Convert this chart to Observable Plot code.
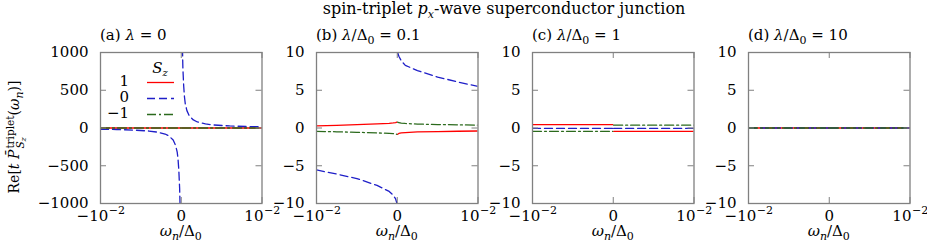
<!DOCTYPE html>
<html><head><meta charset="utf-8">
<script src="https://cdn.jsdelivr.net/npm/d3@7"></script>
<script src="https://cdn.jsdelivr.net/npm/@observablehq/plot@0.6"></script>
<style>
body{margin:0;background:#fff}
#chart{position:relative;width:927px;height:244px;overflow:hidden;font-family:"DejaVu Serif",serif;color:#000;background:#fff}
#chart svg{position:absolute;left:0;top:0}
#chart svg text{font-family:"DejaVu Serif",serif}
.lbl{position:absolute;white-space:nowrap;font-size:15px;line-height:15px}
.lbl sub{font-size:11px;line-height:0;vertical-align:-4px}
.ss{display:inline-block;font-size:10.5px;line-height:10px;vertical-align:-5px;text-align:left;margin-left:1px}
.ss span{display:block}
.ss sub{font-size:8px;vertical-align:-2px}
.lg{position:absolute;font-size:15px;line-height:15px;white-space:nowrap}
</style></head><body><div id="chart"></div>
<script>
// ---------- data ----------
const szLabels = ["1", "0", "−1"];
const panelTitles = [
  "(a) <i>λ</i> = 0",
  "(b) <i>λ</i>/Δ<sub>0</sub> = 0.1",
  "(c) <i>λ</i>/Δ<sub>0</sub> = 1",
  "(d) <i>λ</i>/Δ<sub>0</sub> = 10"
];
const yTicksA = [-1000, -500, 0, 500, 1000];
const yTicksBCD = [-10, -5, 0, 5, 10];
const xTickValues = [-0.01, 0, 0.01];
const xTickBases = ["−10", "0", "10"];
const xTickExps = ["−2", "", "−2"];

// panel (a) lambda = 0
const omegaNegA = [-0.01, -0.008, -0.006, -0.004, -0.003, -0.002, -0.0015, -0.001, -0.0007, -0.0005, -0.0004, -0.0003, -0.0002, -0.00014];
const omegaPosA = [0.00015, 0.0002, 0.0003, 0.0004, 0.0005, 0.0007, 0.001, 0.0015, 0.002, 0.003, 0.004, 0.006, 0.008, 0.01];
const szZeroNegA = [-17, -20, -27, -40, -54, -80, -107, -160, -230, -320, -410, -560, -800, -1060];
const szZeroPosA = [1060, 800, 560, 410, 320, 230, 160, 107, 80, 54, 40, 27, 20, 16];
const omegaEdgeNeg = [-0.01, -0.00005];
const omegaEdgePos = [0.00005, 0.01];
const szPlusNegA = [0, 0], szPlusPosA = [0, 0];
const szMinusNegA = [0, 0], szMinusPosA = [0, 0];

// panel (b) lambda/Delta0 = 0.1
const omegaNegB = [-0.01, -0.0075, -0.005, -0.0025, -0.001, -0.0005, -0.0002, -0.00005];
const omegaPosB = [0.00005, 0.0002, 0.0005, 0.001, 0.0025, 0.005, 0.0075, 0.01];
const szPlusNegB = [0.27, 0.35, 0.45, 0.55, 0.62, 0.67, 0.72, 0.78];
const szPlusPosB = [-0.83, -0.72, -0.65, -0.6, -0.52, -0.47, -0.43, -0.4];
const szZeroNegB = [-5.56, -6.1, -6.7, -7.6, -8.4, -8.9, -9.4, -9.95];
const szZeroPosB = [10.0, 9.5, 8.9, 8.3, 7.6, 6.75, 6.1, 5.5];
const szMinusNegB = [-0.45, -0.5, -0.57, -0.65, -0.7, -0.74, -0.78, -0.83];
const szMinusPosB = [0.78, 0.7, 0.64, 0.6, 0.52, 0.46, 0.42, 0.38];

// panel (c) lambda/Delta0 = 1
const szPlusNegC = [0.45, 0.45], szPlusPosC = [-0.44, -0.44];
const szZeroNegC = [-0.05, -0.05], szZeroPosC = [-0.05, -0.05];
const szMinusNegC = [-0.44, -0.44], szMinusPosC = [0.38, 0.38];

// panel (d) lambda/Delta0 = 10
const szPlusNegD = [0, 0], szPlusPosD = [0, 0];
const szZeroNegD = [0, 0], szZeroPosD = [0, 0];
const szMinusNegD = [0, 0], szMinusPosD = [0, 0];

// ---------- styles / layout ----------
const W = 927, H = 244, TOP = 52, BOTTOM = 41;
const frameLefts = [100, 316, 532, 748];
const frameW = 161.5, frameH = H - TOP - BOTTOM;
const colors = ["#ff0000", "#1f1fc8", "#2b6a1c"];
const dashes = [null, "8,4", "9,3,2,3"];
const gray = "#808080";
const FONT = '"DejaVu Serif", serif';
const FS = 15, FS_EXP = 11;

function rows(wNeg, wPos, neg, pos) {
  return [
    ...wNeg.map((w, i) => ({w, v: neg[i], side: "neg"})),
    ...wPos.map((w, i) => ({w, v: pos[i], side: "pos"}))
  ];
}

const panels = [
  {yTicks: yTicksA, series: [
    rows(omegaEdgeNeg, omegaEdgePos, szPlusNegA, szPlusPosA),
    rows(omegaNegA, omegaPosA, szZeroNegA, szZeroPosA),
    rows(omegaEdgeNeg, omegaEdgePos, szMinusNegA, szMinusPosA)]},
  {yTicks: yTicksBCD, series: [
    rows(omegaNegB, omegaPosB, szPlusNegB, szPlusPosB),
    rows(omegaNegB, omegaPosB, szZeroNegB, szZeroPosB),
    rows(omegaNegB, omegaPosB, szMinusNegB, szMinusPosB)]},
  {yTicks: yTicksBCD, series: [
    rows(omegaEdgeNeg, omegaEdgePos, szPlusNegC, szPlusPosC),
    rows(omegaEdgeNeg, omegaEdgePos, szZeroNegC, szZeroPosC),
    rows(omegaEdgeNeg, omegaEdgePos, szMinusNegC, szMinusPosC)]},
  {yTicks: yTicksBCD, series: [
    rows(omegaEdgeNeg, omegaEdgePos, szPlusNegD, szPlusPosD),
    rows(omegaEdgeNeg, omegaEdgePos, szZeroNegD, szZeroPosD),
    rows(omegaEdgeNeg, omegaEdgePos, szMinusNegD, szMinusPosD)]}
];

const ctx = document.createElement("canvas").getContext("2d");
function tw(s, size) { ctx.font = `${size}px "DejaVu Serif"`; return ctx.measureText(s).width; }

function xTickLabelMarks() {
  return xTickValues.map((v, i) => {
    const base = xTickBases[i], exp = xTickExps[i];
    const common = {x: d => d, frameAnchor: "bottom", lineAnchor: "middle", fontFamily: FONT};
    if (!exp) return Plot.text([v], {...common, text: () => base, dy: 12.5, fontSize: FS});
    const wb = tw(base, FS), we = tw(exp, FS_EXP);
    const start = -(wb + we) / 2;
    return [
      Plot.text([v], {...common, text: () => base, dy: 12.5, dx: start, textAnchor: "start", fontSize: FS}),
      Plot.text([v], {...common, text: () => exp, dy: 7, dx: start + wb + 0.5, textAnchor: "start", fontSize: FS_EXP})
    ];
  });
}

const chart = document.getElementById("chart");

panels.forEach((p, k) => {
  const L = frameLefts[k];
  const svg = Plot.plot({
    width: W, height: H,
    marginTop: TOP, marginBottom: BOTTOM, marginLeft: L, marginRight: W - L - frameW,
    style: {background: "transparent", overflow: "visible", fontFamily: FONT, fontSize: FS + "px", color: "#000"},
    x: {domain: [-0.01, 0.01], axis: null},
    y: {domain: [p.yTicks[0], p.yTicks[p.yTicks.length - 1]], axis: null},
    marks: [
      ...p.series.map((data, s) => Plot.lineY(data, {
        x: "w", y: "v", z: "side", stroke: colors[s], strokeWidth: 1.3,
        strokeDasharray: dashes[s], clip: true
      })),
      Plot.ruleY(p.yTicks, {insetRight: frameW - 6, stroke: gray, strokeWidth: 1}),
      Plot.ruleY(p.yTicks, {insetLeft: frameW - 6, stroke: gray, strokeWidth: 1}),
      Plot.ruleX(xTickValues, {insetBottom: frameH - 6, stroke: gray, strokeWidth: 1}),
      Plot.ruleX(xTickValues, {insetTop: frameH - 6, stroke: gray, strokeWidth: 1}),
      Plot.frame({stroke: gray, strokeWidth: 1.3}),
      Plot.axisY(p.yTicks, {tickSize: 0, tickPadding: 12, fontSize: FS, fontFamily: FONT, label: null,
        tickFormat: d => String(d).replace("-", "−")}),
      xTickLabelMarks()
    ]
  });
  chart.appendChild(svg);

  // panel title
  const t = document.createElement("div");
  t.className = "lbl";
  t.style.left = L + "px";
  t.style.top = "28px";
  t.innerHTML = panelTitles[k];
  chart.appendChild(t);

  // x axis label
  const xl = document.createElement("div");
  xl.className = "lbl";
  xl.style.left = (L + frameW / 2) + "px";
  xl.style.top = "224px";
  xl.style.transform = "translateX(-50%)";
  xl.innerHTML = "<i>ω</i><sub><i>n</i></sub>/Δ<sub>0</sub>";
  chart.appendChild(xl);
});

// overall title
const title = document.createElement("div");
title.className = "lbl";
title.style.left = "504px";
title.style.top = "1px";
title.style.fontSize = "16px";
title.style.lineHeight = "16px";
title.style.transform = "translateX(-50%)";
title.innerHTML = "spin-triplet <i>p</i><sub><i>x</i></sub>-wave superconductor junction";
chart.appendChild(title);

// y axis label (rotated)
const yl = document.createElement("div");
yl.className = "lbl";
yl.style.left = "15px";
yl.style.top = "137px";
yl.style.fontSize = "14px";
yl.style.transform = "translate(-50%,-50%) rotate(-90deg)";
yl.innerHTML = 'Re[<i>t</i> <i>P̄</i><span class="ss"><span>triplet</span><span><i>S</i><sub><i>z</i></sub></span></span>(<i>ω</i><sub><i>n</i></sub>)]';
chart.appendChild(yl);

// legend in panel (a)
const lgHead = document.createElement("div");
lgHead.className = "lg";
lgHead.style.left = "160px";
lgHead.style.top = "61px";
lgHead.style.transform = "translateX(-50%)";
lgHead.innerHTML = "<i>S</i><sub style='font-size:10px;vertical-align:-3px;line-height:0'><i>z</i></sub>";
chart.appendChild(lgHead);
szLabels.forEach((lab, i) => {
  const r = document.createElement("div");
  r.className = "lg";
  r.style.left = "100px";
  r.style.top = (75.2 + i * 15.7) + "px";
  r.style.height = "15px";
  r.style.display = "flex";
  r.style.alignItems = "center";
  r.innerHTML = `<span style="display:inline-block;width:29px;text-align:right;position:relative;top:-1px">${lab}</span>` +
    `<svg width="27" height="15" style="position:static;margin-left:17.5px"><line x1="0" x2="27" y1="7.5" y2="7.5" stroke="${colors[i]}" stroke-width="1.3" ${dashes[i] ? `stroke-dasharray="${dashes[i]}"` : ""}/></svg>`;
  chart.appendChild(r);
});
</script></body></html>
